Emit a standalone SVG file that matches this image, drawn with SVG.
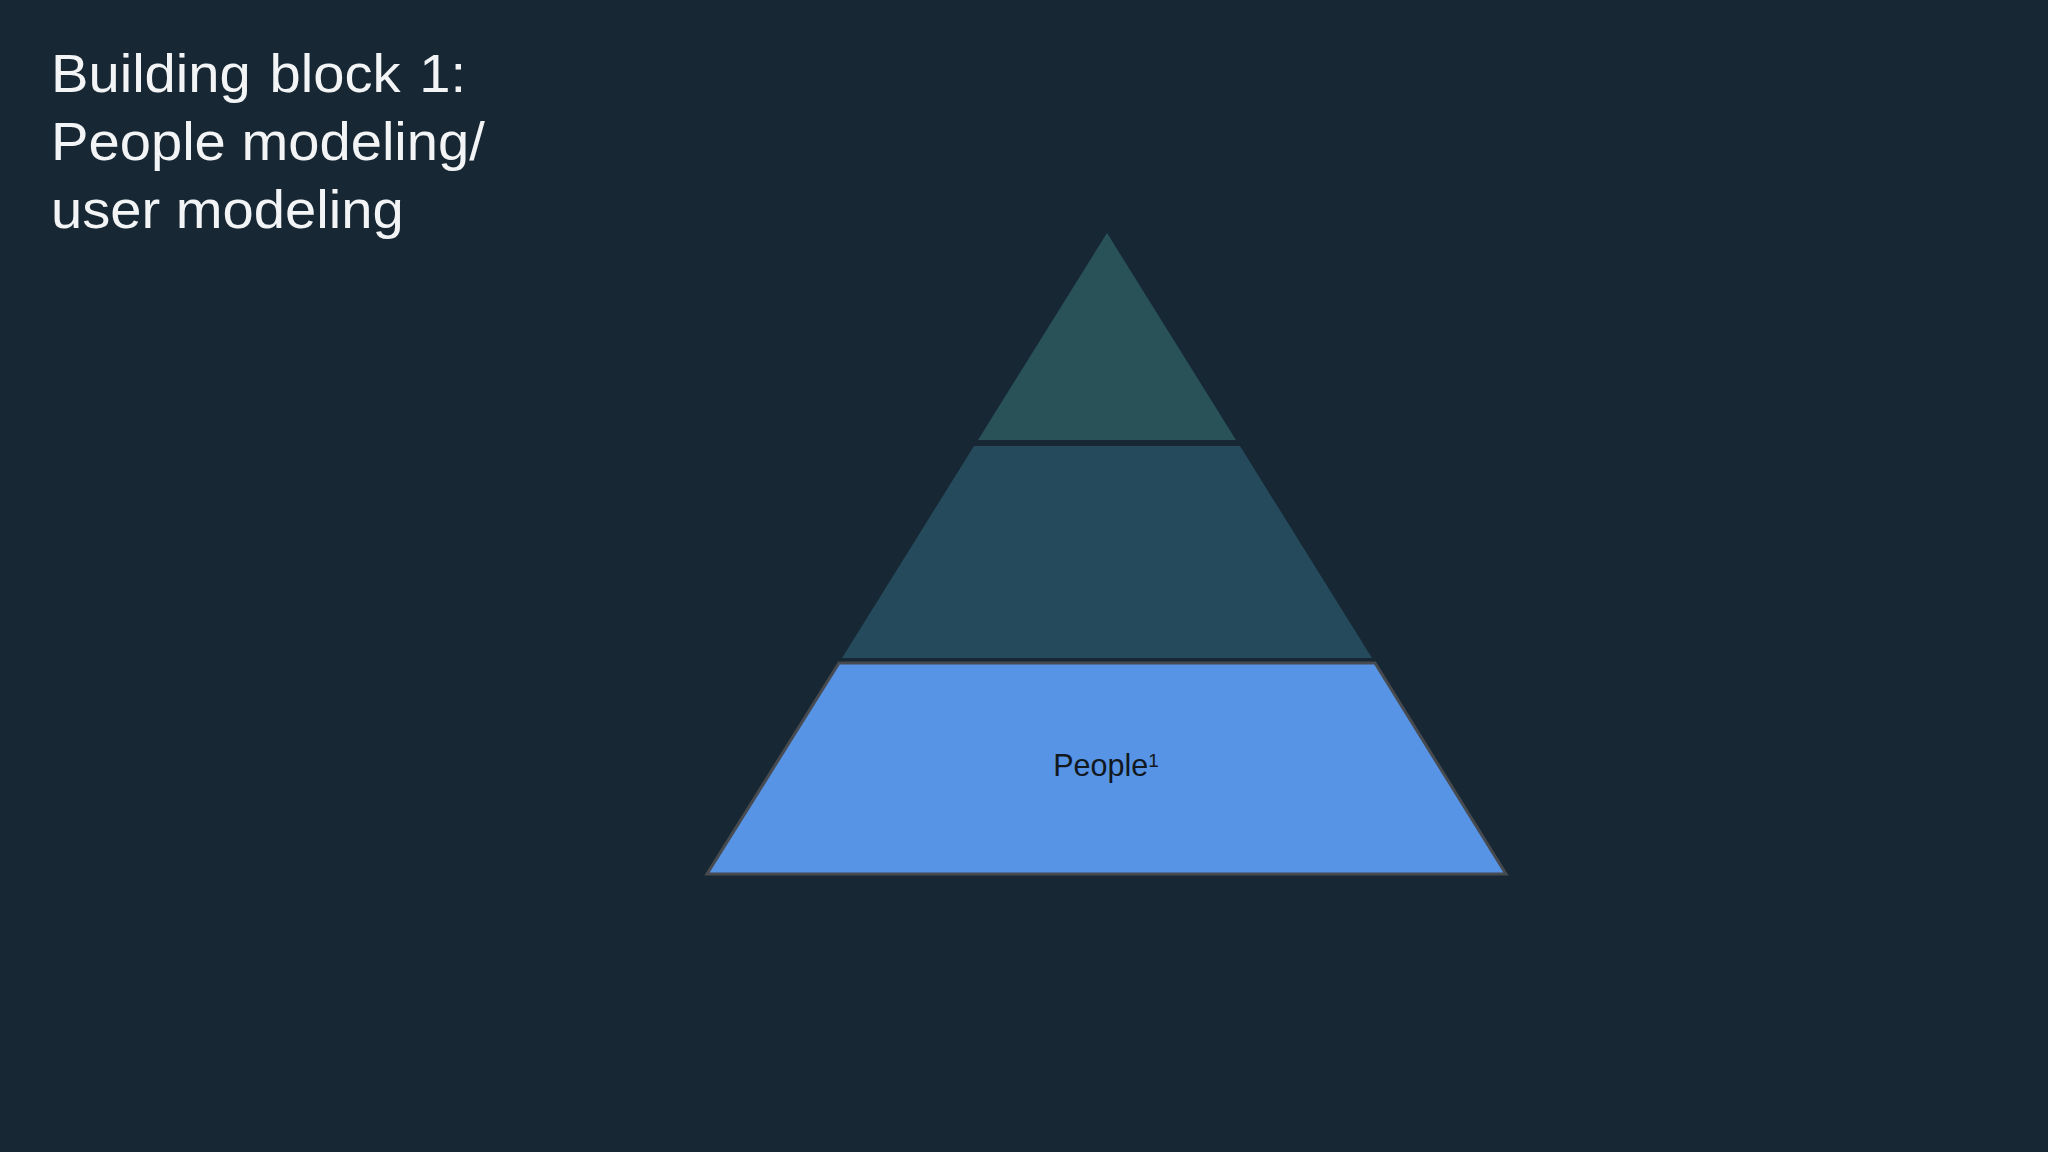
<svg xmlns="http://www.w3.org/2000/svg" width="2048" height="1152" viewBox="0 0 2048 1152">
<style>
.title{font-family:"Liberation Sans",Arial,sans-serif;font-size:54px;fill:#f2f4f5}
.lbl{font-family:"Liberation Sans",Arial,sans-serif;font-size:30.5px;fill:#111820}
</style>
<rect x="0" y="0" width="2048" height="1152" fill="#172733"/>
<g id="title" transform="translate(51,0) scale(1.04,1)">
<text class="title" x="0" y="92" word-spacing="3">Building block 1:</text>
<text class="title" x="0" y="160">People modeling/</text>
<text class="title" x="0" y="228">user modeling</text>
</g>
<g id="tier-top">
<polygon points="1107,233 1236,440 978,440" fill="#285258"/>
</g>
<g id="tier-middle">
<polygon points="974,446 1240,446 1372,658 842,658" fill="#254a5c"/>
</g>
<g id="tier-people">
<polygon points="839,663 1375,663 1506,874 707,874" fill="#5894e5" stroke="#474b50" stroke-width="3" stroke-linejoin="miter"/>
<text class="lbl" x="1106" y="776" text-anchor="middle">People<tspan font-size="19" dy="-9">1</tspan></text>
</g>
<g id="connectors"/>
</svg>
